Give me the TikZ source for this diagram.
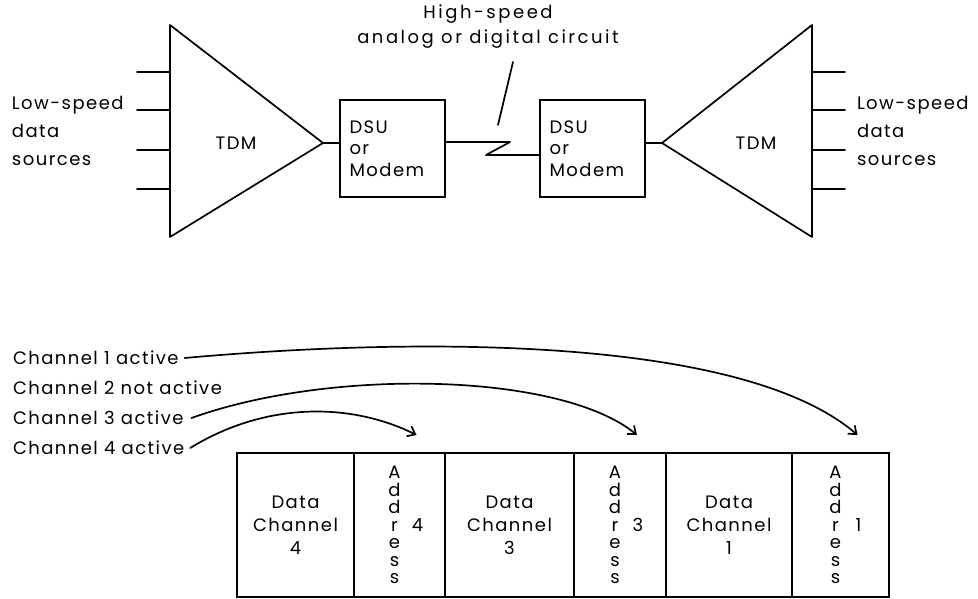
\documentclass[tikz,border=0pt]{standalone}
\usepackage{fontspec}
\setmainfont[LetterSpace=8]{Poppins}
\usepackage{tikz}
\usetikzlibrary{positioning,arrows.meta,calc}

\begin{document}
\begin{tikzpicture}[
  x=1pt,y=-1pt,
  font=\fontsize{18}{22}\selectfont,
  every node/.style={inner sep=0pt,outer sep=0pt},
  wire/.style={line width=1.7pt,line cap=round,line join=round},
  dsu/.style={rectangle,draw,line width=1.7pt,minimum width=105pt,minimum height=97pt,
        text width=86pt,inner xsep=9pt,align=left,font=\fontsize{18}{21.5}\selectfont},
  side/.style={align=left,anchor=west,font=\fontsize{18}{28}\selectfont},
  chan/.style={anchor=west},
  cell/.style={rectangle,draw,line width=1.7pt,minimum height=144pt,align=center},
  datacell/.style={cell,font=\fontsize{18}{23}\selectfont},
  letters/.style={align=center,font=\fontsize{18}{17.5}\selectfont},
  arrow/.style={wire,-{Straight Barb[length=7pt,width=11pt,line width=1.7pt]}}
]
\useasboundingbox (0,0) rectangle (978,599);
% top: two multiplexers over one line
\coordinate (ltop) at (170,25);
\coordinate (lbot) at (170,237);
\coordinate (lapex) at (323,143);
\coordinate (rtop) at (812,25);
\coordinate (rbot) at (812,237);
\coordinate (rapex) at (662,143);
\draw[wire] (ltop) -- (lbot) -- (lapex) -- cycle;
\draw[wire] (rtop) -- (rbot) -- (rapex) -- cycle;
\node (ltdm) at (236,143) {TDM};
\node (rtdm) at (756,143) {TDM};
\foreach \y [count=\i] in {72,110,150,189} {
  \coordinate (lin\i) at (137,\y);
  \coordinate (rout\i) at (845,\y);
  \draw[wire] (lin\i) -- (ltop |- lin\i);
  \draw[wire] (rtop |- rout\i) -- (rout\i);
}
\node[side] (lsrc) at (12,131) {Low-speed\\data\\sources};
\node[side] (rsrc) at (857,131) {Low-speed\\data\\sources};
\node[dsu] (ldsu) at (392.5,148.5) {DSU\\or\\Modem};
\node[dsu] (rdsu) at (592.5,148.5) {DSU\\or\\Modem};
\node[align=center,font=\fontsize{18}{25}\selectfont\addfontfeature{LetterSpace=14}] (hs) at (488,27)
  {High-speed\\analog or digital circuit};
\coordinate (zigA) at (510,142);
\coordinate (zigB) at (486,155);
\coordinate (leadtop) at (513,62);
\coordinate (leadbot) at (498,125);
\draw[wire] (lapex) -- (ldsu.west |- lapex);
\draw[wire] (ldsu.east |- zigA) -- (zigA) -- (zigB) -- (rdsu.west |- zigB);
\draw[wire] (rdsu.east |- rapex) -- (rapex);
\draw[wire] (leadtop) -- (leadbot);
% bottom: frame with addressed slots
\node[chan] (ch1) at (13,358) {Channel 1 active};
\node[chan] (ch2) at (13,388) {Channel 2 not active};
\node[chan] (ch3) at (13,418) {Channel 3 active};
\node[chan] (ch4) at (13,448) {Channel 4 active};
\node[datacell,minimum width=117pt] (dc4) at (295.5,525) {Data\\Channel\\4};
\node[cell,minimum width=91pt,right=0pt of dc4] (ad4) {};
\node[datacell,minimum width=129pt,right=0pt of ad4] (dc3) {Data\\Channel\\3};
\node[cell,minimum width=92pt,right=0pt of dc3] (ad3) {};
\node[datacell,minimum width=126pt,right=0pt of ad3] (dc1) {Data\\Channel\\1};
\node[cell,minimum width=97pt,right=0pt of dc1] (ad1) {};
\foreach \a/\n in {ad4/4,ad3/3,ad1/1} {
  \node[letters] (\a txt) at ($(\a.center)+(-5,0)$) {A\\d\\d\\r\\e\\s\\s};
  \node (\a num) at ($(\a.center)+(18,0)$) {\n};
  \coordinate (\a in) at ($(\a.north)+(17,-18)$);
}
\draw[arrow] ([xshift=6pt]ch1.east) .. controls (430,336) and (745,338) .. (ad1in);
\draw[arrow] ([xshift=8pt]ch3.east) .. controls (330,368) and (560,372) .. (ad3in);
\draw[arrow] ([xshift=6pt]ch4.east) .. controls (265,402) and (350,402) .. (ad4in);
\end{tikzpicture}
\end{document}
